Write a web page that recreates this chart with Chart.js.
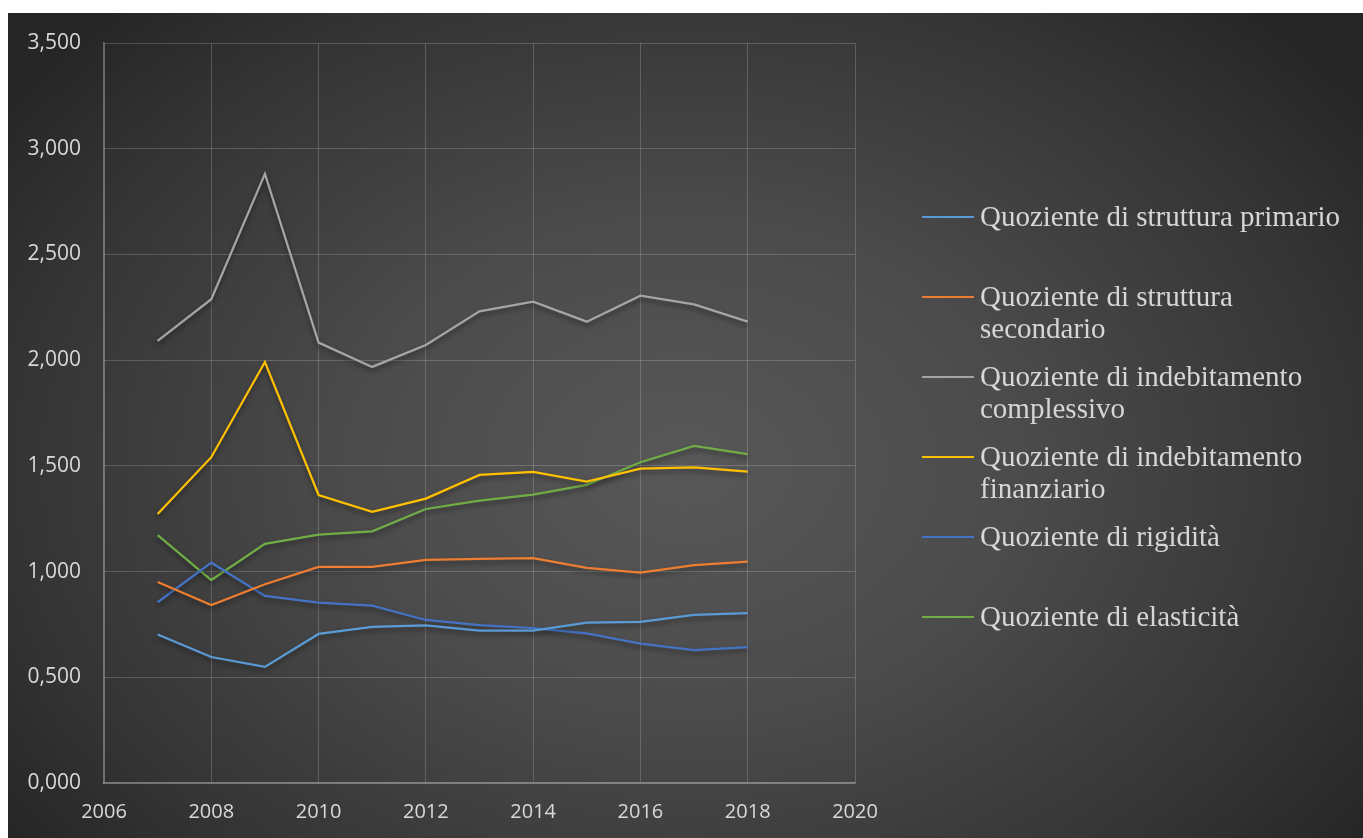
<!DOCTYPE html>
<html>
<head>
<meta charset="utf-8">
<script src="https://cdn.jsdelivr.net/npm/chart.js@4/dist/chart.umd.min.js"></script>
<style>
  html, body { margin: 0; padding: 0; background: #fff; }
  #box {
    position: absolute; left: 8px; top: 13px; width: 1355px; height: 825px;
    background: radial-gradient(ellipse 62% 75% at 50% 55%, #585858 0%, #4b4b4b 40%, #343434 80%, #262626 100%);
  }
  #chartWrap { position: absolute; left: 0; top: 0; width: 1355px; height: 825px; }
  #legend {
    position: absolute; left: 914px; top: 187px; width: 445px;
    font-family: "Liberation Serif", "DejaVu Serif", serif; font-size: 29px;
    color: #d6d6d6; line-height: 32px;
  }
  .item { position: relative; height: 80px; padding-left: 58px; white-space: nowrap; }
  .item .line { position: absolute; left: 0; top: 16px; width: 52px; height: 2px; }
</style>
</head>
<body>
<div id="box">
  <div id="chartWrap"><canvas id="lineChart"></canvas></div>
  <div id="legend"></div>
</div>
<script>
var years = [2007, 2008, 2009, 2010, 2011, 2012, 2013, 2014, 2015, 2016, 2017, 2018];

var seriesNames = [
  "Quoziente di struttura primario",
  ["Quoziente di struttura", "secondario"],
  ["Quoziente di indebitamento", "complessivo"],
  ["Quoziente di indebitamento", "finanziario"],
  "Quoziente di rigidità",
  "Quoziente di elasticità"
];
var seriesColors = ["#5b9bd5", "#ed7d31", "#a5a5a5", "#ffc000", "#4472c4", "#70ad47"];

var primario = [0.702, 0.596, 0.549, 0.705, 0.738, 0.746, 0.721, 0.721, 0.758, 0.762, 0.795, 0.804];
var secondario = [0.951, 0.842, 0.940, 1.022, 1.022, 1.055, 1.060, 1.064, 1.018, 0.995, 1.031, 1.047];
var complessivo = [2.091, 2.288, 2.881, 2.083, 1.968, 2.072, 2.231, 2.277, 2.182, 2.305, 2.264, 2.182];
var finanziario = [1.272, 1.541, 1.991, 1.362, 1.283, 1.345, 1.457, 1.471, 1.425, 1.487, 1.493, 1.473];
var rigidita = [0.855, 1.042, 0.885, 0.853, 0.839, 0.771, 0.747, 0.732, 0.708, 0.659, 0.628, 0.643];
var elasticita = [1.172, 0.960, 1.131, 1.175, 1.190, 1.296, 1.336, 1.364, 1.410, 1.517, 1.594, 1.555];

var xTicks = [2006, 2008, 2010, 2012, 2014, 2016, 2018, 2020];
var yTicks = [0, 0.5, 1, 1.5, 2, 2.5, 3, 3.5];

var allSeries = [primario, secondario, complessivo, finanziario, rigidita, elasticita];

function toPoints(values) {
  return values.map(function (v, i) { return { x: years[i], y: v }; });
}

// legend in html so long names can wrap like the original
var legendDiv = document.getElementById("legend");
seriesNames.forEach(function (name, i) {
  var item = document.createElement("div");
  item.className = "item";
  var line = document.createElement("span");
  line.className = "line";
  line.style.background = seriesColors[i];
  item.appendChild(line);
  var lines = Array.isArray(name) ? name : [name];
  lines.forEach(function (t) {
    var d = document.createElement("div");
    d.textContent = t;
    item.appendChild(d);
  });
  legendDiv.appendChild(item);
});

// soft shadow under the lines
var shadowPlugin = {
  id: "lineShadow",
  beforeDatasetDraw: function (chart) {
    var ctx = chart.ctx;
    ctx.save();
    ctx.shadowColor = "rgba(0,0,0,0.45)";
    ctx.shadowBlur = 5;
    ctx.shadowOffsetY = 3;
  },
  afterDatasetDraw: function (chart) {
    chart.ctx.restore();
  }
};

var ctx = document.getElementById("lineChart").getContext("2d");
var myChart = new Chart(ctx, {
  type: "line",
  data: {
    datasets: allSeries.map(function (vals, i) {
      return {
        label: Array.isArray(seriesNames[i]) ? seriesNames[i].join(" ") : seriesNames[i],
        data: toPoints(vals),
        borderColor: seriesColors[i],
        backgroundColor: seriesColors[i],
        borderWidth: 2.25,
        pointRadius: 0,
        tension: 0,
        fill: false
      };
    })
  },
  options: {
    responsive: true,
    maintainAspectRatio: false,
    animation: false,
    layout: { padding: { top: 30, right: 508, left: 0, bottom: 0 } },
    plugins: {
      legend: { display: false },
      tooltip: { enabled: false }
    },
    scales: {
      x: {
        type: "linear",
        min: 2006,
        max: 2020,
        afterBuildTicks: function (scale) {
          scale.ticks = xTicks.map(function (v) { return { value: v }; });
        },
        afterFit: function (scale) { scale.height = 55; },
        ticks: {
          color: "#d9d9d9",
          padding: 17,
          font: { family: "Open Sans", size: 20 },
          callback: function (v) { return String(v); }
        },
        grid: { color: "rgba(255,255,255,0.18)", lineWidth: 1, drawTicks: false },
        border: { color: "rgba(255,255,255,0.35)", width: 1.5 }
      },
      y: {
        min: 0,
        max: 3.5,
        afterBuildTicks: function (scale) {
          scale.ticks = yTicks.map(function (v) { return { value: v }; });
        },
        afterFit: function (scale) {
          scale.width = 96;
          // tick padding otherwise pushes the plot top down
          scale.paddingTop = 12;
          scale.paddingBottom = 12;
        },
        ticks: {
          color: "#d9d9d9",
          padding: 23,
          font: { family: "Open Sans", size: 21 },
          callback: function (v) { return v.toFixed(3).replace(".", ","); }
        },
        grid: { color: "rgba(255,255,255,0.18)", lineWidth: 1, drawTicks: false },
        border: { color: "rgba(255,255,255,0.3)", width: 1.5 }
      }
    }
  },
  plugins: [shadowPlugin]
});
</script>
</body>
</html>
